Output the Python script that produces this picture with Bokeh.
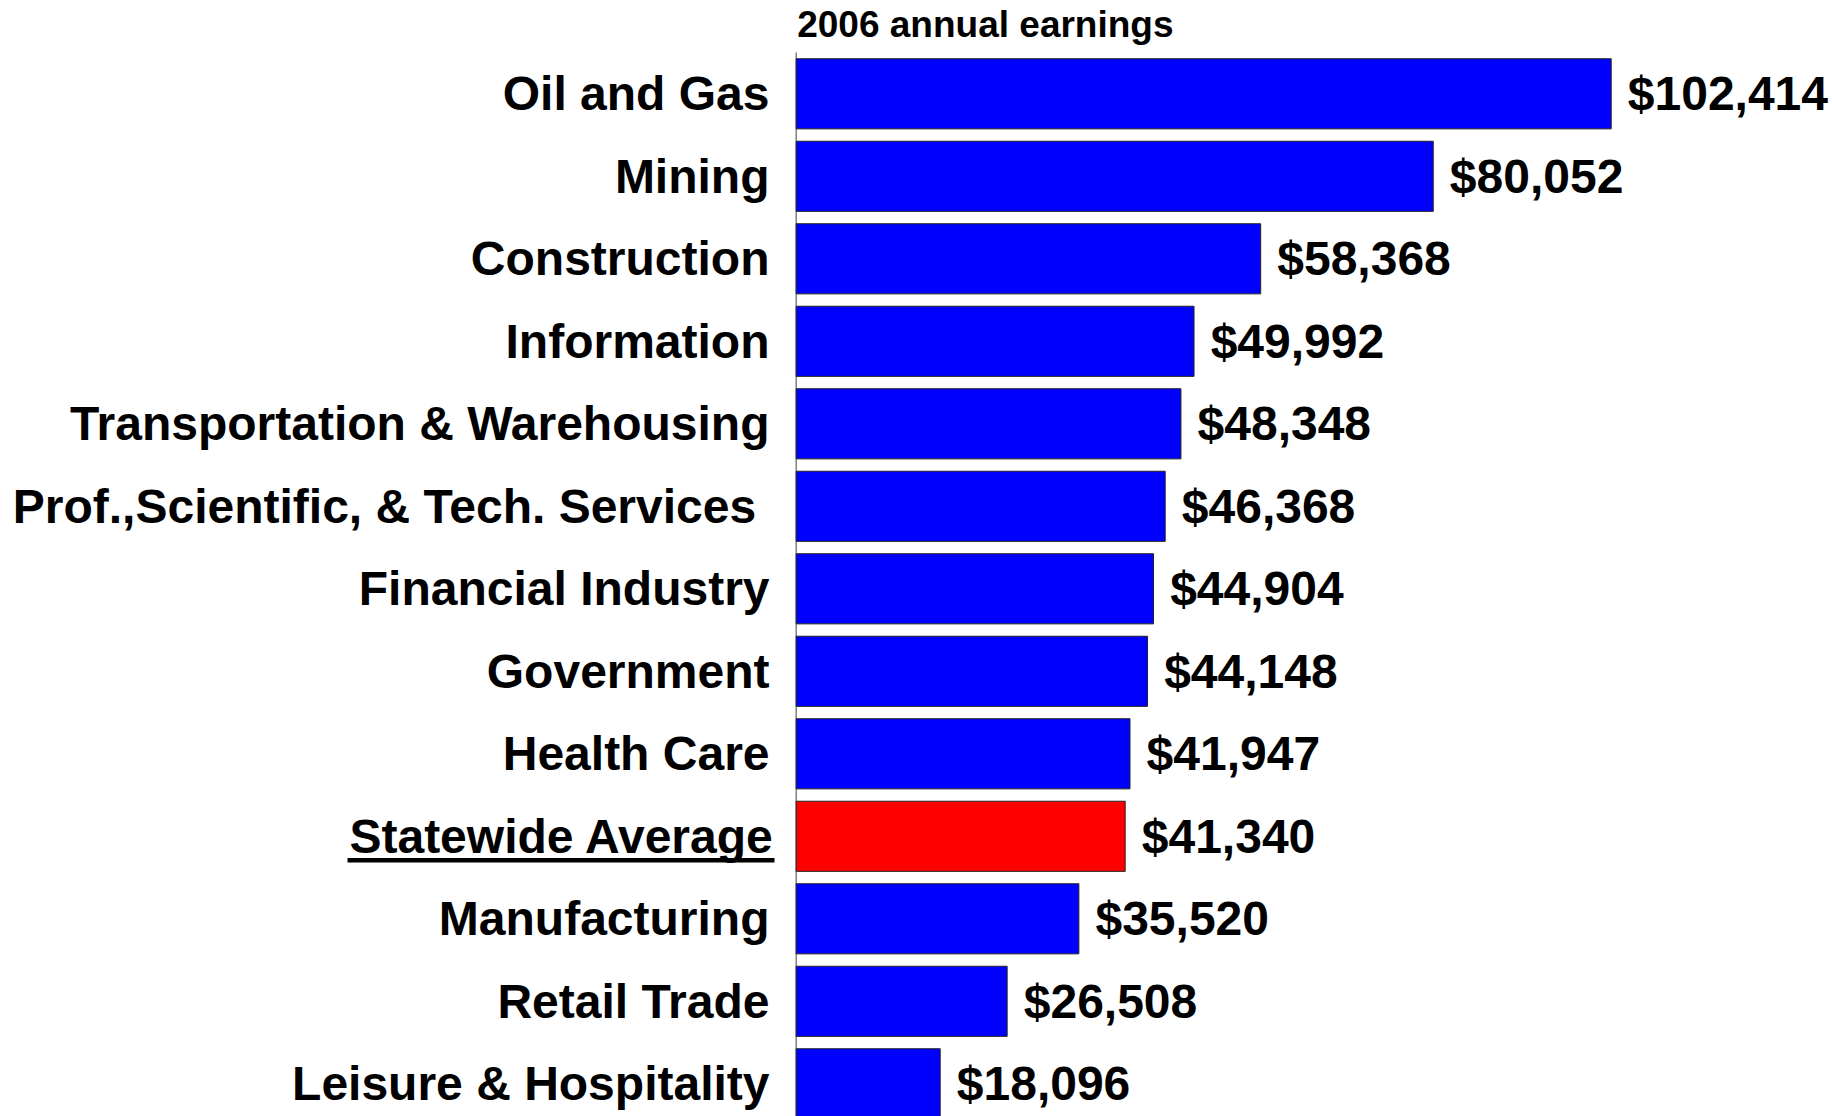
from bokeh.plotting import figure
from bokeh.models import Range1d, ColumnDataSource, Label
from bokeh.core.properties import value
from bokeh.embed import file_html
from bokeh.resources import INLINE

# ---- data ----
categories = [
    "Oil and Gas", "Mining", "Construction", "Information",
    "Transportation & Warehousing", "Prof.,Scientific, & Tech. Services ",
    "Financial Industry", "Government", "Health Care", "Statewide Average",
    "Manufacturing", "Retail Trade", "Leisure & Hospitality",
]
earnings = [102414, 80052, 58368, 49992, 48348, 46368, 44904, 44148,
            41947, 41340, 35520, 26508, 18096]
highlight = "Statewide Average"
title_text = "2006 annual earnings"

# ---- layout constants (pixels) ----
W, H = 1832, 1116
AXIS_PX = 795.7          # x pixel of the zero line
PX_PER_UNIT = 815.0 / 102414
ROW_PX = 82.5
FIRST_ROW_PX = 93.3
FONT = "Liberation Sans"
FS = "48px"
CAT_GAP = 26.7
HI_GAP = 21.7
VAL_GAP = 16.6

x_start = -AXIS_PX / PX_PER_UNIT
x_end = (W - AXIS_PX) / PX_PER_UNIT
y_top = -FIRST_ROW_PX / ROW_PX
y_bottom = (H - FIRST_ROW_PX) / ROW_PX

idx = list(range(len(categories)))
colors = ["#FF0000" if c == highlight else "#0000FF" for c in categories]
vlabels = ["${:,}".format(v) for v in earnings]

src = ColumnDataSource(dict(y=idx, v=earnings, c=colors, lab=vlabels, cat=categories))
reg = [i for i, c in enumerate(categories) if c != highlight]
hi = [i for i, c in enumerate(categories) if c == highlight]
src_reg = ColumnDataSource(dict(y=[idx[i] for i in reg], cat=[categories[i] for i in reg]))
src_hi = ColumnDataSource(dict(y=[idx[i] for i in hi], cat=[categories[i] for i in hi]))

p = figure(width=W, height=H, output_backend="svg", toolbar_location=None,
           x_range=Range1d(x_start, x_end), y_range=Range1d(y_bottom, y_top),
           x_axis_location=None, y_axis_location=None, min_border=0)
p.outline_line_color = None
p.xgrid.visible = False
p.ygrid.visible = False
p.background_fill_color = "white"

# zero line (axis)
p.segment(x0=[0], x1=[0], y0=[-0.5], y1=[len(categories) + 0.5],
          line_color="#808080", line_width=1.5)

p.hbar(y="y", left=0, right="v", height=0.85, fill_color="c",
       line_color="#222222", line_width=1, source=src)

p.text(x="v", y="y", text="lab", source=src, x_offset=VAL_GAP,
       text_align="left", text_baseline="middle",
       text_font=value(FONT), text_font_style="bold", text_font_size=FS,
       text_color="black")

p.text(x=0, y="y", text="cat", source=src_reg, x_offset=-CAT_GAP,
       text_align="right", text_baseline="middle",
       text_font=value(FONT), text_font_style="bold", text_font_size=FS,
       text_color="black")
p.text(x=0, y="y", text="cat", source=src_hi, x_offset=-HI_GAP,
       text_align="right", text_baseline="middle",
       text_font=value(FONT), text_font_style="bold", text_font_size=FS,
       text_color="black")

# underline for highlighted label
UL_W_PX = 427.0
UL_DY = 24.0 / ROW_PX
for i in hi:
    p.segment(x0=[-(HI_GAP + UL_W_PX) / PX_PER_UNIT], x1=[-HI_GAP / PX_PER_UNIT],
              y0=[idx[i] + UL_DY], y1=[idx[i] + UL_DY],
              line_color="black", line_width=4.5)

p.add_layout(Label(x=0, y=H - 23.5, x_units="data", y_units="screen",
                   x_offset=1, text=title_text, text_font=FONT,
                   text_font_style="bold", text_font_size="37px",
                   text_color="black", text_baseline="alphabetic",
                   text_align="left"))

open("out.html", "w").write(file_html(p, INLINE))
